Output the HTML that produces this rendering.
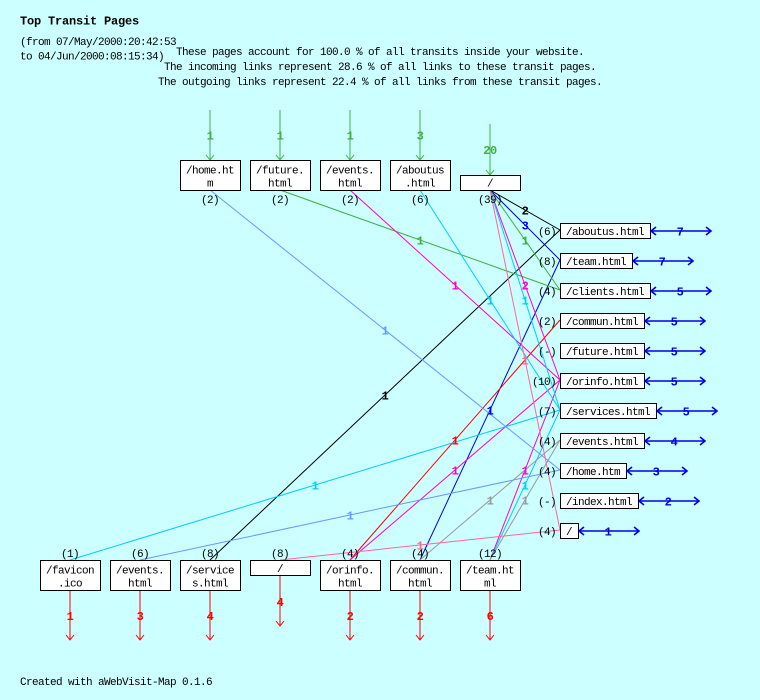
<!DOCTYPE html>
<html>
<head>
<meta charset="utf-8">
<style>
html,body{margin:0;padding:0;background:#ccffff;}
svg{display:block;}
text{font-family:"Liberation Mono","DejaVu Sans Mono",monospace;}
.t{font-size:11px;letter-spacing:-0.6px;fill:#000;}
.b{font-size:12px;font-weight:bold;letter-spacing:-0.5px;}
</style>
</head>
<body>
<svg width="760" height="700" viewBox="0 0 760 700" xmlns="http://www.w3.org/2000/svg">
<rect x="0" y="0" width="760" height="700" fill="#ccffff"/>

<!-- header -->
<text x="20" y="24.5" style="font-size:12px;font-weight:bold;letter-spacing:-0.2px" fill="#000">Top Transit Pages</text>
<text class="t" x="20" y="45">(from 07/May/2000:20:42:53</text>
<text class="t" x="20" y="59.5">to 04/Jun/2000:08:15:34)</text>
<text class="t" x="380" y="55" text-anchor="middle">These pages account for 100.0 % of all transits inside your website.</text>
<text class="t" x="380" y="70" text-anchor="middle">The incoming links represent 28.6 % of all links to these transit pages.</text>
<text class="t" x="380" y="85" text-anchor="middle">The outgoing links represent 22.4 % of all links from these transit pages.</text>

<!-- connectors -->
<g stroke-width="1" fill="none">
<line x1="490" y1="190" x2="560" y2="230" stroke="#000"/>
<line x1="210" y1="560" x2="560" y2="230" stroke="#000"/>
<line x1="490" y1="190" x2="560" y2="260" stroke="#0000e6"/>
<line x1="420" y1="560" x2="560" y2="260" stroke="#0000e6"/>
<line x1="490" y1="190" x2="560" y2="290" stroke="#40b040"/>
<line x1="280" y1="190" x2="560" y2="290" stroke="#40b040"/>
<line x1="350" y1="560" x2="560" y2="320" stroke="#ff0000"/>
<line x1="490" y1="190" x2="560" y2="380" stroke="#ff00cc"/>
<line x1="350" y1="190" x2="560" y2="380" stroke="#ff00cc"/>
<line x1="350" y1="560" x2="560" y2="380" stroke="#ff00cc"/>
<line x1="490" y1="560" x2="560" y2="380" stroke="#ff00cc"/>
<line x1="490" y1="190" x2="560" y2="410" stroke="#00ccff"/>
<line x1="420" y1="190" x2="560" y2="410" stroke="#00ccff"/>
<line x1="70" y1="560" x2="560" y2="410" stroke="#00ccff"/>
<line x1="490" y1="560" x2="560" y2="410" stroke="#00ccff"/>
<line x1="420" y1="560" x2="560" y2="440" stroke="#999999"/>
<line x1="490" y1="560" x2="560" y2="440" stroke="#999999"/>
<line x1="210" y1="190" x2="560" y2="470" stroke="#6699ff"/>
<line x1="140" y1="560" x2="560" y2="470" stroke="#6699ff"/>
<line x1="490" y1="190" x2="560" y2="530" stroke="#ff6699"/>
<line x1="280" y1="560" x2="560" y2="530" stroke="#ff6699"/>
</g>

<!-- connector labels -->
<g text-anchor="middle">
<text class="b" x="525" y="214.5" fill="#000">2</text>
<text class="b" x="385" y="399.5" fill="#000">1</text>
<text class="b" x="525" y="229.5" fill="#0000e6">3</text>
<text class="b" x="490" y="414.5" fill="#0000e6">1</text>
<text class="b" x="525" y="244.5" fill="#40b040">1</text>
<text class="b" x="420" y="244.5" fill="#40b040">1</text>
<text class="b" x="455" y="444.5" fill="#ff0000">1</text>
<text class="b" x="525" y="289.5" fill="#ff00cc">2</text>
<text class="b" x="455" y="289.5" fill="#ff00cc">1</text>
<text class="b" x="455" y="474.5" fill="#ff00cc">1</text>
<text class="b" x="525" y="474.5" fill="#ff00cc">1</text>
<text class="b" x="525" y="304.5" fill="#00ccff">1</text>
<text class="b" x="490" y="304.5" fill="#00ccff">1</text>
<text class="b" x="315" y="489.5" fill="#00ccff">1</text>
<text class="b" x="525" y="489.5" fill="#00ccff">1</text>
<text class="b" x="490" y="504.5" fill="#999999">1</text>
<text class="b" x="525" y="504.5" fill="#999999">1</text>
<text class="b" x="385" y="334.5" fill="#6699ff">1</text>
<text class="b" x="350" y="519.5" fill="#6699ff">1</text>
<text class="b" x="525" y="364.5" fill="#ff6699">1</text>
<text class="b" x="420" y="549.5" fill="#ff6699">1</text>
</g>

<!-- top incoming green arrows -->
<g stroke="#40b040" stroke-width="1" fill="none">
<line x1="210" y1="110" x2="210" y2="160"/><polyline points="206,155 210,160 214,155"/>
<line x1="280" y1="110" x2="280" y2="160"/><polyline points="276,155 280,160 284,155"/>
<line x1="350" y1="110" x2="350" y2="160"/><polyline points="346,155 350,160 354,155"/>
<line x1="420" y1="110" x2="420" y2="160"/><polyline points="416,155 420,160 424,155"/>
<line x1="490" y1="124" x2="490" y2="175"/><polyline points="486,170 490,175 494,170"/>
</g>
<g fill="#40b040" text-anchor="middle">
<text class="b" x="210" y="139.5">1</text>
<text class="b" x="280" y="139.5">1</text>
<text class="b" x="350" y="139.5">1</text>
<text class="b" x="420" y="139.5">3</text>
<text class="b" x="490" y="154">20</text>
</g>

<!-- top boxes -->
<g fill="#fff" stroke="#000" stroke-width="1" shape-rendering="crispEdges">
<rect x="180.5" y="160.5" width="60" height="30"/>
<rect x="250.5" y="160.5" width="60" height="30"/>
<rect x="320.5" y="160.5" width="60" height="30"/>
<rect x="390.5" y="160.5" width="60" height="30"/>
<rect x="460.5" y="175.5" width="60" height="15"/>
</g>
<g text-anchor="middle">
<text class="t" x="210" y="173.5">/home.ht</text><text class="t" x="210" y="186.5">m</text>
<text class="t" x="280" y="173.5">/future.</text><text class="t" x="280" y="186.5">html</text>
<text class="t" x="350" y="173.5">/events.</text><text class="t" x="350" y="186.5">html</text>
<text class="t" x="420" y="173.5">/aboutus</text><text class="t" x="420" y="186.5">.html</text>
<text class="t" x="490" y="186.5">/</text>
<text class="t" x="210" y="203">(2)</text>
<text class="t" x="280" y="203">(2)</text>
<text class="t" x="350" y="203">(2)</text>
<text class="t" x="420" y="203">(6)</text>
<text class="t" x="490" y="203">(39)</text>
</g>

<!-- right boxes -->
<g fill="#fff" stroke="#000" stroke-width="1" shape-rendering="crispEdges">
<rect x="560.5" y="223.5" width="90" height="15"/>
<rect x="560.5" y="253.5" width="72" height="15"/>
<rect x="560.5" y="283.5" width="90" height="15"/>
<rect x="560.5" y="313.5" width="84" height="15"/>
<rect x="560.5" y="343.5" width="84" height="15"/>
<rect x="560.5" y="373.5" width="84" height="15"/>
<rect x="560.5" y="403.5" width="96" height="15"/>
<rect x="560.5" y="433.5" width="84" height="15"/>
<rect x="560.5" y="463.5" width="66" height="15"/>
<rect x="560.5" y="493.5" width="78" height="15"/>
<rect x="560.5" y="523.5" width="18" height="15"/>
</g>
<g>
<text class="t" x="566" y="235">/aboutus.html</text>
<text class="t" x="566" y="265">/team.html</text>
<text class="t" x="566" y="295">/clients.html</text>
<text class="t" x="566" y="325">/commun.html</text>
<text class="t" x="566" y="355">/future.html</text>
<text class="t" x="566" y="385">/orinfo.html</text>
<text class="t" x="566" y="415">/services.html</text>
<text class="t" x="566" y="445">/events.html</text>
<text class="t" x="566" y="475">/home.htm</text>
<text class="t" x="566" y="505">/index.html</text>
<text class="t" x="566" y="535">/</text>
</g>
<g text-anchor="end">
<text class="t" x="556" y="235">(6)</text>
<text class="t" x="556" y="265">(8)</text>
<text class="t" x="556" y="295">(4)</text>
<text class="t" x="556" y="325">(2)</text>
<text class="t" x="556" y="355">(-)</text>
<text class="t" x="556" y="385">(10)</text>
<text class="t" x="556" y="415">(7)</text>
<text class="t" x="556" y="445">(4)</text>
<text class="t" x="556" y="475">(4)</text>
<text class="t" x="556" y="505">(-)</text>
<text class="t" x="556" y="535">(4)</text>
</g>

<!-- right outgoing blue arrows -->
<g stroke="#0000e6" stroke-width="1.6" fill="none">
<line x1="651" y1="231" x2="711" y2="231"/><polyline points="656,227 651,231 656,235"/><polyline points="706,227 711,231 706,235"/>
<line x1="633" y1="261" x2="693" y2="261"/><polyline points="638,257 633,261 638,265"/><polyline points="688,257 693,261 688,265"/>
<line x1="651" y1="291" x2="711" y2="291"/><polyline points="656,287 651,291 656,295"/><polyline points="706,287 711,291 706,295"/>
<line x1="645" y1="321" x2="705" y2="321"/><polyline points="650,317 645,321 650,325"/><polyline points="700,317 705,321 700,325"/>
<line x1="645" y1="351" x2="705" y2="351"/><polyline points="650,347 645,351 650,355"/><polyline points="700,347 705,351 700,355"/>
<line x1="645" y1="381" x2="705" y2="381"/><polyline points="650,377 645,381 650,385"/><polyline points="700,377 705,381 700,385"/>
<line x1="657" y1="411" x2="717" y2="411"/><polyline points="662,407 657,411 662,415"/><polyline points="712,407 717,411 712,415"/>
<line x1="645" y1="441" x2="705" y2="441"/><polyline points="650,437 645,441 650,445"/><polyline points="700,437 705,441 700,445"/>
<line x1="627" y1="471" x2="687" y2="471"/><polyline points="632,467 627,471 632,475"/><polyline points="682,467 687,471 682,475"/>
<line x1="639" y1="501" x2="699" y2="501"/><polyline points="644,497 639,501 644,505"/><polyline points="694,497 699,501 694,505"/>
<line x1="579" y1="531" x2="639" y2="531"/><polyline points="584,527 579,531 584,535"/><polyline points="634,527 639,531 634,535"/>
</g>
<g fill="#0000e6" text-anchor="middle">
<text class="b" x="680" y="235.5">7</text>
<text class="b" x="662" y="265.5">7</text>
<text class="b" x="680" y="295.5">5</text>
<text class="b" x="674" y="325.5">5</text>
<text class="b" x="674" y="355.5">5</text>
<text class="b" x="674" y="385.5">5</text>
<text class="b" x="686" y="415.5">5</text>
<text class="b" x="674" y="445.5">4</text>
<text class="b" x="656" y="475.5">3</text>
<text class="b" x="668" y="505.5">2</text>
<text class="b" x="608" y="535.5">1</text>
</g>

<!-- bottom boxes -->
<g fill="#fff" stroke="#000" stroke-width="1" shape-rendering="crispEdges">
<rect x="40.5" y="560.5" width="60" height="30"/>
<rect x="110.5" y="560.5" width="60" height="30"/>
<rect x="180.5" y="560.5" width="60" height="30"/>
<rect x="250.5" y="560.5" width="60" height="15"/>
<rect x="320.5" y="560.5" width="60" height="30"/>
<rect x="390.5" y="560.5" width="60" height="30"/>
<rect x="460.5" y="560.5" width="60" height="30"/>
</g>
<g text-anchor="middle">
<text class="t" x="70" y="573.5">/favicon</text><text class="t" x="70" y="586.5">.ico</text>
<text class="t" x="140" y="573.5">/events.</text><text class="t" x="140" y="586.5">html</text>
<text class="t" x="210" y="573.5">/service</text><text class="t" x="210" y="586.5">s.html</text>
<text class="t" x="280" y="572">/</text>
<text class="t" x="350" y="573.5">/orinfo.</text><text class="t" x="350" y="586.5">html</text>
<text class="t" x="420" y="573.5">/commun.</text><text class="t" x="420" y="586.5">html</text>
<text class="t" x="490" y="573.5">/team.ht</text><text class="t" x="490" y="586.5">ml</text>
<text class="t" x="70" y="557">(1)</text>
<text class="t" x="140" y="557">(6)</text>
<text class="t" x="210" y="557">(8)</text>
<text class="t" x="280" y="557">(8)</text>
<text class="t" x="350" y="557">(4)</text>
<text class="t" x="420" y="557">(4)</text>
<text class="t" x="490" y="557">(12)</text>
</g>

<!-- bottom red arrows -->
<g stroke="#ff0000" stroke-width="1" fill="none">
<line x1="70" y1="591" x2="70" y2="640"/><polyline points="66,635 70,640 74,635"/>
<line x1="140" y1="591" x2="140" y2="640"/><polyline points="136,635 140,640 144,635"/>
<line x1="210" y1="591" x2="210" y2="640"/><polyline points="206,635 210,640 214,635"/>
<line x1="280" y1="576" x2="280" y2="626"/><polyline points="276,621 280,626 284,621"/>
<line x1="350" y1="591" x2="350" y2="640"/><polyline points="346,635 350,640 354,635"/>
<line x1="420" y1="591" x2="420" y2="640"/><polyline points="416,635 420,640 424,635"/>
<line x1="490" y1="591" x2="490" y2="640"/><polyline points="486,635 490,640 494,635"/>
</g>
<g fill="#ff0000" text-anchor="middle">
<text class="b" x="70" y="620">1</text>
<text class="b" x="140" y="620">3</text>
<text class="b" x="210" y="620">4</text>
<text class="b" x="280" y="606">4</text>
<text class="b" x="350" y="620">2</text>
<text class="b" x="420" y="620">2</text>
<text class="b" x="490" y="620">6</text>
</g>

<!-- footer -->
<text class="t" x="20" y="685">Created with aWebVisit-Map 0.1.6</text>
</svg>
</body>
</html>
